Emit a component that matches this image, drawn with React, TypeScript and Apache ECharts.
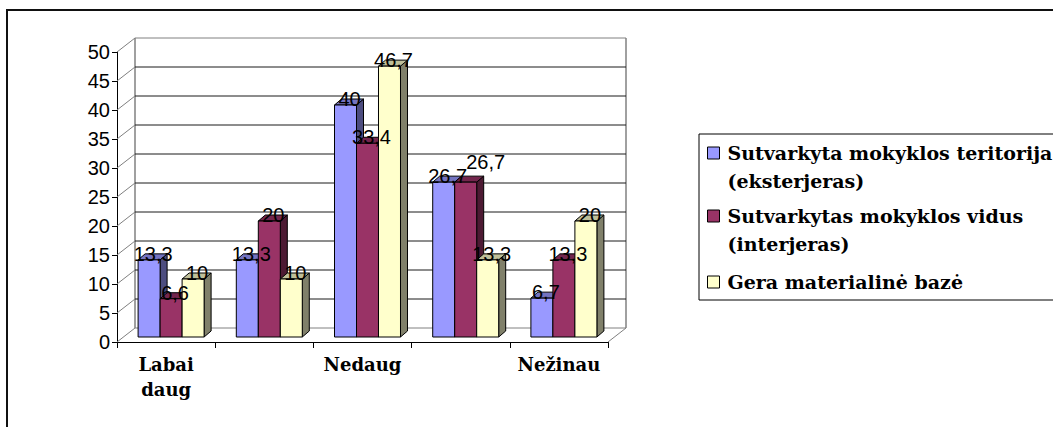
import React, { useEffect, useRef } from 'react';
import * as echarts from 'echarts';

const categories = ['Labai daug', 'Daug', 'Nedaug', 'Mažai', 'Nežinau'];
const seriesNames = [
  'Sutvarkyta mokyklos teritorija (eksterjeras)',
  'Sutvarkytas mokyklos vidus (interjeras)',
  'Gera materialinė bazė',
];
const exteriorValues = [13.3, 13.3, 40, 26.7, 6.7];
const interiorValues = [6.6, 20, 33.4, 26.7, 13.3];
const baseValues = [10, 10, 46.7, 13.3, 20];
const yTickValues = [0, 5, 10, 15, 20, 25, 30, 35, 40, 45, 50];

const frontColors = ['#9999FF', '#993366', '#FFFFCC'];
const topColors = ['#7373C0', '#73264D', '#BFBF99'];
const sideColors = ['#4D4D80', '#4D1A33', '#80806A'];

const SERIF = 'DejaVu Serif';
const SANS = 'Liberation Sans';

// 3D geometry (pixels)
const WALL_DX = 18;
const WALL_DY = -14;
const BAR_DX = 5;
const BAR_DY = -5;
const DEPTH_X = 7;
const DEPTH_Y = 6;
// label nudges for labels Excel moved: key "series-category"
const labelNudges: Record<string, [number, number]> = { '1-3': [16, -14] };

const fmt = (v: number) => String(v).replace('.', ',');

function makeBarRender(sIdx: number) {
  return (params: any, api: any) => {
    const i = api.value(0);
    const v = api.value(1);
    const p0 = api.coord([i, 0]);
    const p1 = api.coord([i, v]);
    const band = api.size([1, 0])[0];
    const bw = band * 0.224;
    const xl = p0[0] - 1.5 * bw + sIdx * bw + BAR_DX;
    const xr = xl + bw;
    const yb = p0[1] + BAR_DY;
    const yt = p1[1] + BAR_DY;
    const d = DEPTH_X;
    const e = DEPTH_Y;
    const stroke = { stroke: '#000', lineWidth: 1 };
    const nudge = labelNudges[`${sIdx}-${i}`] || [0, 0];
    return {
      type: 'group',
      children: [
        {
          type: 'polygon',
          shape: { points: [[xr, yt], [xr + d, yt - e], [xr + d, yb - e], [xr, yb]] },
          style: { fill: sideColors[sIdx], ...stroke },
        },
        {
          type: 'polygon',
          shape: { points: [[xl, yt], [xl + d, yt - e], [xr + d, yt - e], [xr, yt]] },
          style: { fill: topColors[sIdx], ...stroke },
        },
        {
          type: 'rect',
          shape: { x: xl, y: yt, width: bw, height: yb - yt },
          style: { fill: frontColors[sIdx], ...stroke },
        },
        {
          type: 'text',
          x: (xl + xr) / 2 + 4 + nudge[0],
          y: yt - 6 + nudge[1],
          z2: 100,
          style: {
            text: fmt(v),
            fill: '#000',
            fontFamily: SANS,
            fontSize: 20,
            align: 'center',
            verticalAlign: 'middle',
          },
        },
      ],
    };
  };
}

function renderWalls(params: any, api: any) {
  const cs = params.coordSys;
  const x0 = cs.x;
  const x1 = cs.x + cs.width;
  const v = api.value(1);
  const y = api.coord([0, v])[1];
  const yMax = api.coord([0, yTickValues[yTickValues.length - 1]])[1];
  const y0 = api.coord([0, yTickValues[0]])[1];
  const gray = '#808080';
  const isEdge = v === yTickValues[0] || v === yTickValues[yTickValues.length - 1];
  const children: any[] = [
    {
      type: 'line',
      shape: { x1: x0 + WALL_DX, y1: y + WALL_DY, x2: x1 + WALL_DX, y2: y + WALL_DY },
      style: { stroke: isEdge ? gray : '#1a1a1a', lineWidth: 1 },
    },
    {
      type: 'line',
      shape: { x1: x0, y1: y, x2: x0 + WALL_DX, y2: y + WALL_DY },
      style: { stroke: gray, lineWidth: 1 },
    },
  ];
  if (v === yTickValues[0]) {
    children.push(
      {
        type: 'line',
        shape: { x1: x1, y1: y, x2: x1 + WALL_DX, y2: y + WALL_DY },
        style: { stroke: gray, lineWidth: 1 },
      },
      {
        type: 'line',
        shape: { x1: x0 + WALL_DX, y1: yMax + WALL_DY, x2: x0 + WALL_DX, y2: y0 + WALL_DY },
        style: { stroke: gray, lineWidth: 1.5 },
      },
      {
        type: 'line',
        shape: { x1: x1 + WALL_DX, y1: yMax + WALL_DY, x2: x1 + WALL_DX, y2: y0 + WALL_DY },
        style: { stroke: gray, lineWidth: 1.5 },
      }
    );
  }
  return { type: 'group', children };
}

// two-line legend entries: a blank first line keeps the icon level with the first text line
const legendFormatter = (name: string) =>
  name.indexOf(' (') >= 0 ? '\n' + name.replace(' (', '\n(') : name;

export default function App() {
  const ref = useRef<HTMLDivElement>(null);
  useEffect(() => {
    if (!ref.current) return;
    const chart = echarts.init(ref.current, undefined, { renderer: 'svg' });
    const seriesValues = [exteriorValues, interiorValues, baseValues];
    const legendText = {
      fontFamily: SERIF,
      fontWeight: 'bold' as const,
      fontSize: 19,
      lineHeight: 28,
      color: '#000',
      padding: [0, 0, 0, 3],
    };
    chart.setOption({
      animation: false,
      backgroundColor: '#fff',
      grid: { left: 117, top: 52, width: 491, height: 290 },
      xAxis: {
        type: 'category',
        data: categories,
        boundaryGap: true,
        axisLine: { show: true, lineStyle: { color: '#000', width: 1 } },
        axisTick: { show: true, length: 6, interval: 0, lineStyle: { color: '#000' } },
        axisLabel: {
          interval: 1,
          margin: 10,
          color: '#000',
          fontFamily: SERIF,
          fontWeight: 'bold',
          fontSize: 18,
          lineHeight: 25,
          formatter: (v: string) => v.replace(' ', '\n'),
        },
        splitLine: { show: false },
      },
      yAxis: {
        type: 'value',
        min: 0,
        max: 50,
        interval: 5,
        axisLine: { show: true, lineStyle: { color: '#000', width: 1 } },
        axisTick: { show: true, length: 5, lineStyle: { color: '#000' } },
        axisLabel: {
          margin: 7,
          color: '#000',
          fontFamily: SANS,
          fontSize: 20,
        },
        splitLine: { show: false },
      },
      legend: [
        {
          data: [seriesNames[0], seriesNames[1]],
          orient: 'vertical',
          left: 707,
          top: 111,
          itemGap: -21,
          itemWidth: 12,
          itemHeight: 12,
          icon: 'rect',
          padding: 0,
          selectedMode: false,
          itemStyle: { borderColor: '#000', borderWidth: 1 },
          textStyle: legendText,
          formatter: legendFormatter,
        },
        {
          data: [seriesNames[2]],
          orient: 'vertical',
          left: 707,
          top: 268,
          itemWidth: 12,
          itemHeight: 12,
          icon: 'rect',
          padding: 0,
          selectedMode: false,
          itemStyle: { borderColor: '#000', borderWidth: 1 },
          textStyle: legendText,
          formatter: legendFormatter,
        },
      ],
      graphic: [
        {
          type: 'rect',
          shape: { x: 7, y: 10, width: 1100, height: 500 },
          style: { fill: 'none', stroke: '#111', lineWidth: 2 },
          silent: true,
        },
        {
          type: 'rect',
          shape: { x: 699, y: 134, width: 400, height: 166 },
          style: { fill: 'none', stroke: '#000', lineWidth: 1 },
          silent: true,
        },
      ],
      series: [
        {
          type: 'custom',
          name: '__walls',
          coordinateSystem: 'cartesian2d',
          data: yTickValues.map((v) => [0, v]),
          encode: { x: 0, y: 1 },
          renderItem: renderWalls,
          silent: true,
          z: 1,
          clip: false,
        },
        ...seriesNames.map((name, sIdx) => ({
          type: 'custom',
          name,
          coordinateSystem: 'cartesian2d',
          data: seriesValues[sIdx].map((v, i) => [i, v]),
          encode: { x: 0, y: 1 },
          itemStyle: { color: frontColors[sIdx] },
          renderItem: makeBarRender(sIdx),
          silent: true,
          z: 3,
          clip: false,
        })),
      ],
    });
    return () => chart.dispose();
  }, []);
  return (
    <div
      ref={ref}
      style={{ position: 'fixed', left: 0, top: 0, width: 1053, height: 427 }}
    />
  );
}
